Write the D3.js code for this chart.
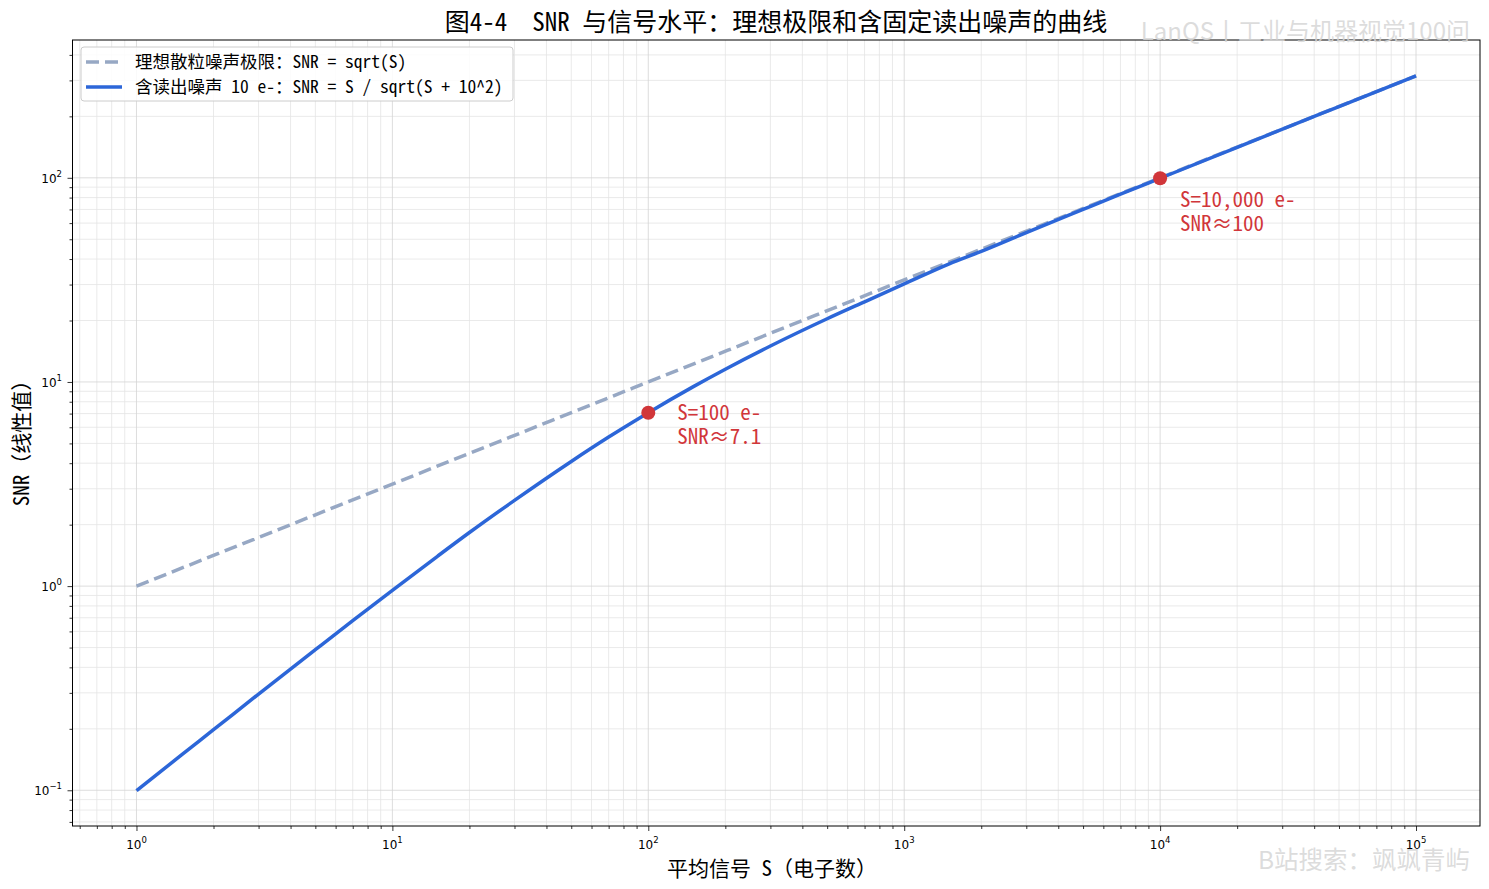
<!DOCTYPE html>
<html><head><meta charset="utf-8">
<script src="https://cdn.jsdelivr.net/npm/d3@7"></script>
<style>
body{margin:0;background:#fff;}
.mono{font-family:"Noto Sans Mono CJK SC","Noto Sans CJK SC","DejaVu Sans Mono",sans-serif;white-space:pre;}
.tick{font-family:"DejaVu Sans",sans-serif;}
</style></head>
<body>
<svg id="chart" width="1489" height="889"></svg>
<script>
// ---- data ----
const titleText = "图4-4  SNR 与信号水平：理想极限和含固定读出噪声的曲线";
const xLabel = "平均信号 S（电子数）";
const yLabel = "SNR（线性值）";
const seriesNames = ["理想散粒噪声极限：SNR = sqrt(S)", "含读出噪声 10 e-：SNR = S / sqrt(S + 10^2)"];
const xTickExps = [0, 1, 2, 3, 4, 5];
const yTickExps = [-1, 0, 1, 2];
// ideal shot-noise limit
const idealS   = [1, 10, 100, 1000, 10000, 100000];
const idealSNR = [1, 3.16, 10, 31.6, 100, 316];
// with read noise 10 e-
const readS   = [1, 1.5, 2, 3, 5, 7, 10, 15, 20, 30, 50, 70, 100, 150, 200, 300, 500, 700, 1000, 1500, 2000, 3000, 5000, 7000, 10000, 20000, 50000, 100000];
const readSNR = [0.0995, 0.149, 0.198, 0.296, 0.488, 0.677, 0.953, 1.40, 1.83, 2.63, 4.08, 5.37, 7.07, 9.49, 11.55, 15.0, 20.4, 24.7, 30.2, 37.9, 43.6, 53.9, 70.0, 83.1, 99.5, 141.1, 223.4, 316.1];
// annotated points
const markS   = [100, 10000];
const markSNR = [7.07, 99.5];
const markText = [["S=100 e-", "SNR≈7.1"], ["S=10,000 e-", "SNR≈100"]];

// ---- layout ----
const svg = d3.select("#chart");
const L = 72.5, R = 1480, T = 40, B = 826;
const x = d3.scaleLog().domain([Math.pow(10, -0.25), Math.pow(10, 5.25)]).range([L, R]);
const y = d3.scaleLog().domain([Math.pow(10, -1.175), Math.pow(10, 2.675)]).range([B, T]);

// grid
const minorVals = (lo, hi) => { const a = []; for (let e = lo; e <= hi; e++) for (let m = 2; m <= 9; m++) a.push(m * Math.pow(10, e)); return a; };
const xMinor = minorVals(-1, 5).filter(v => v >= x.domain()[0] && v <= x.domain()[1]);
const yMinor = minorVals(-2, 2).filter(v => v >= y.domain()[0] && v <= y.domain()[1]);
const xMajor = xTickExps.map(e => Math.pow(10, e));
const yMajor = yTickExps.map(e => Math.pow(10, e));
const g = svg.append("g");
g.selectAll(".gxm").data(xMinor).enter().append("line")
  .attr("x1", d => x(d)).attr("x2", d => x(d)).attr("y1", T).attr("y2", B)
  .attr("stroke", "#e4e4e4").attr("stroke-width", 0.8);
g.selectAll(".gym").data(yMinor).enter().append("line")
  .attr("y1", d => y(d)).attr("y2", d => y(d)).attr("x1", L).attr("x2", R)
  .attr("stroke", "#e4e4e4").attr("stroke-width", 0.8);
g.selectAll(".gxM").data(xMajor).enter().append("line")
  .attr("x1", d => x(d)).attr("x2", d => x(d)).attr("y1", T).attr("y2", B)
  .attr("stroke", "#d4d4d4").attr("stroke-width", 0.8);
g.selectAll(".gyM").data(yMajor).enter().append("line")
  .attr("y1", d => y(d)).attr("y2", d => y(d)).attr("x1", L).attr("x2", R)
  .attr("stroke", "#d4d4d4").attr("stroke-width", 0.8);

// axes
const xAxis = d3.axisBottom(x).tickValues(xMajor).tickSize(5).tickFormat("");
const xAxisMinor = d3.axisBottom(x).tickValues(xMinor).tickSize(3).tickFormat("");
const yAxis = d3.axisLeft(y).tickValues(yMajor).tickSize(5).tickFormat("");
const yAxisMinor = d3.axisLeft(y).tickValues(yMinor).tickSize(3).tickFormat("");
[xAxis, xAxisMinor].forEach(a => svg.append("g").attr("transform", `translate(0,${B})`).call(a).call(s => s.select(".domain").remove()));
[yAxis, yAxisMinor].forEach(a => svg.append("g").attr("transform", `translate(${L},0)`).call(a).call(s => s.select(".domain").remove()));
svg.selectAll(".tick line").attr("stroke", "#000").attr("stroke-width", 0.8);

// tick labels
xTickExps.forEach(e => {
  const t = svg.append("text").attr("class", "tick").attr("x", x(Math.pow(10, e))).attr("y", 849)
    .attr("text-anchor", "middle").attr("font-size", 12).attr("fill", "#000");
  t.append("tspan").text("10");
  t.append("tspan").attr("dy", -6).attr("font-size", 8.5).text(String(e));
});
yTickExps.forEach(e => {
  const t = svg.append("text").attr("class", "tick").attr("x", 62).attr("y", y(Math.pow(10, e)) + 5)
    .attr("text-anchor", "end").attr("font-size", 12).attr("fill", "#000");
  t.append("tspan").text("10");
  t.append("tspan").attr("dy", -6).attr("font-size", 8.5).text(e < 0 ? "−" + (-e) : String(e));
});

// frame
svg.append("rect").attr("x", L).attr("y", T).attr("width", R - L).attr("height", B - T)
  .attr("fill", "none").attr("stroke", "#000").attr("stroke-width", 1);

// lines
const line = d3.line().x(d => x(d[0])).y(d => y(d[1])).curve(d3.curveMonotoneX);
svg.append("path").datum(idealS.map((s, i) => [s, idealSNR[i]])).attr("d", line)
  .attr("fill", "none").attr("stroke", "#97a8c4").attr("stroke-width", 3.5).attr("stroke-dasharray", "13,6");
svg.append("path").datum(readS.map((s, i) => [s, readSNR[i]])).attr("d", line)
  .attr("fill", "none").attr("stroke", "#2c66d8").attr("stroke-width", 3.5);

// markers + annotations
const annOff = [[29, 7], [20, 29]];
markS.forEach((s, i) => {
  svg.append("circle").attr("cx", x(s)).attr("cy", y(markSNR[i])).attr("r", 7).attr("fill", "#d1363a");
  const t = svg.append("text").attr("class", "mono").attr("font-size", 21).attr("fill", "#d1363a");
  markText[i].forEach((ln, j) => {
    t.append("tspan").attr("x", x(s) + annOff[i][0]).attr("y", y(markSNR[i]) + annOff[i][1] + j * 24).text(ln);
  });
});

// legend
svg.append("rect").attr("x", 81).attr("y", 47).attr("width", 432).attr("height", 54).attr("rx", 3)
  .attr("fill", "#fff").attr("fill-opacity", 0.85).attr("stroke", "#cccccc").attr("stroke-width", 1);
const legStyles = [{c: "#97a8c4", d: "13,6"}, {c: "#2c66d8", d: null}];
seriesNames.forEach((nm, i) => {
  const yy = 62 + i * 25;
  const l = svg.append("line").attr("x1", 86).attr("x2", 122).attr("y1", yy).attr("y2", yy)
    .attr("stroke", legStyles[i].c).attr("stroke-width", 3.5);
  if (legStyles[i].d) l.attr("stroke-dasharray", legStyles[i].d);
  svg.append("text").attr("class", "mono").attr("x", 135).attr("y", yy + 6).attr("font-size", 17.5).attr("fill", "#000").text(nm);
});

// titles
svg.append("text").attr("class", "mono").attr("x", 776).attr("y", 31).attr("text-anchor", "middle")
  .attr("font-size", 25).attr("fill", "#000").text(titleText);
svg.append("text").attr("class", "mono").attr("x", 772).attr("y", 876).attr("text-anchor", "middle")
  .attr("font-size", 21).attr("fill", "#000").text(xLabel);
svg.append("text").attr("class", "mono").attr("transform", "translate(29,438) rotate(-90)").attr("text-anchor", "middle")
  .attr("font-size", 21).attr("fill", "#000").text(yLabel);

// watermarks
svg.append("text").attr("x", 1470).attr("y", 40).attr("text-anchor", "end")
  .attr("font-family", "'Noto Sans CJK SC',sans-serif").attr("font-size", 24).attr("fill", "#d6d6d6").attr("fill-opacity", 0.85)
  .text("LanQS丨工业与机器视觉100问");
svg.append("text").attr("x", 1470).attr("y", 869).attr("text-anchor", "end")
  .attr("font-family", "'Noto Sans CJK SC',sans-serif").attr("font-size", 24.5).attr("fill", "#d6d6d6").attr("fill-opacity", 0.85)
  .text("B站搜索：飒飒青屿");
</script>
</body></html>
